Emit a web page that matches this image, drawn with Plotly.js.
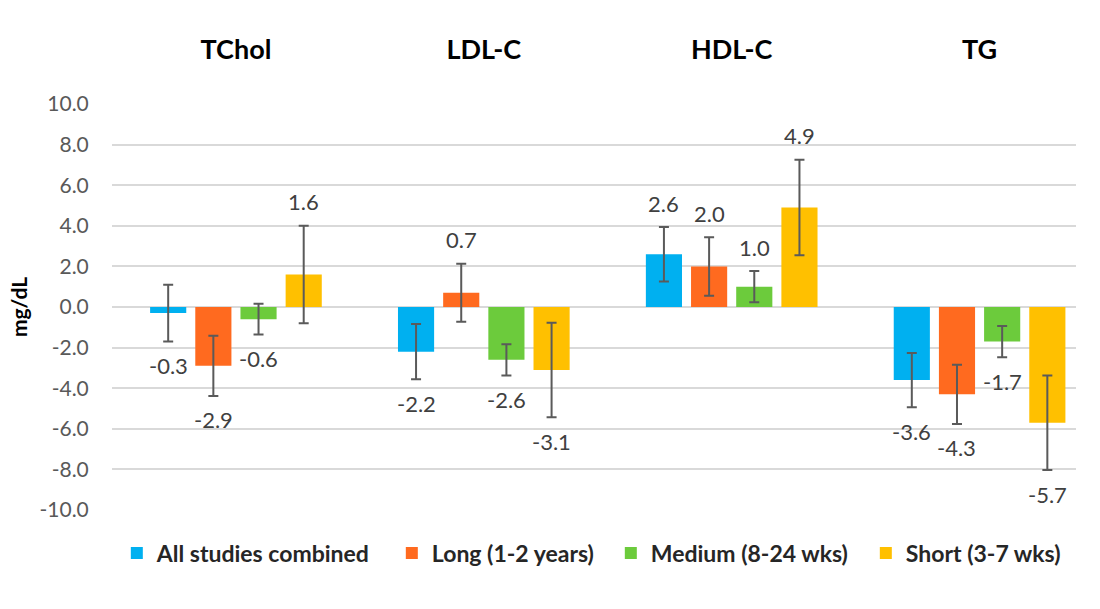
<!DOCTYPE html>
<html>
<head>
<meta charset="utf-8">
<script src="https://cdn.plot.ly/plotly-3.0.1.min.js"></script>
<style>
  html, body { margin: 0; padding: 0; background: #ffffff; }
  #chart { width: 1100px; height: 609px; }
</style>
</head>
<body>
<div id="chart"></div>
<script>
const categories = ['TChol', 'LDL-C', 'HDL-C', 'TG'];
const seriesNames = ['All studies combined', 'Long (1-2 years)', 'Medium (8-24 wks)', 'Short (3-7 wks)'];
const allValues    = [-0.3, -2.2, 2.6, -3.6];
const longValues   = [-2.9,  0.7, 2.0, -4.3];
const mediumValues = [-0.6, -2.6, 1.0, -1.7];
const shortValues  = [ 1.6, -3.1, 4.9, -5.7];
const allErr    = [1.40, 1.36, 1.34, 1.34];
const longErr   = [1.48, 1.43, 1.44, 1.46];
const mediumErr = [0.76, 0.77, 0.77, 0.77];
const shortErr  = [2.40, 2.33, 2.35, 2.33];
const yTickVals = [-10, -8, -6, -4, -2, 0, 2, 4, 6, 8, 10];
const yTickText = ['-10.0', '-8.0', '-6.0', '-4.0', '-2.0', '0.0', '2.0', '4.0', '6.0', '8.0', '10.0'];

const colors = ['#00B0F0', '#FF6A1F', '#6CCB3C', '#FFC000'];
const legendWidths = [230, 174, 210, 160];
const values = [allValues, longValues, mediumValues, shortValues];
const errs = [allErr, longErr, mediumErr, shortErr];

const FONT = 'Lato, "Open Sans", sans-serif';

const traces = values.map((vals, i) => ({
  type: 'bar',
  name: seriesNames[i],
  x: categories,
  y: vals,
  marker: { color: colors[i], line: { width: 0 } },
  error_y: { type: 'data', array: errs[i], visible: true, color: '#5a5a5a', thickness: 2, width: 5 },
  legendwidth: legendWidths[i],
  hoverinfo: 'skip'
}));

const plotWidthPx = 1100 - 111.5 - 24;
const xRange = [-0.5, 3.389];
const catPx = plotWidthPx / (xRange[1] - xRange[0]);
const bargap = 0.271;
const slotPx = catPx * (1 - bargap) / 4;

const annotations = [];
values.forEach((vals, i) => {
  vals.forEach((v, j) => {
    const sign = v >= 0 ? 1 : -1;
    annotations.push({
      x: categories[j], xref: 'x',
      y: v + sign * errs[i][j], yref: 'y',
      xshift: (i - 1.5) * slotPx,
      yshift: sign * 24,
      yanchor: 'middle',
      text: v.toFixed(1),
      showarrow: false,
      font: { family: FONT, size: 22, color: '#404040' }
    });
  });
});

const layout = {
  width: 1100, height: 609,
  paper_bgcolor: '#ffffff', plot_bgcolor: '#ffffff',
  margin: { l: 111.5, r: 24, t: 104, b: 99, autoexpand: false },
  barmode: 'group',
  bargap: bargap,
  bargroupgap: 0.2,
  showlegend: true,
  legend: {
    orientation: 'h', x: 0.005, xanchor: 'left', y: -0.106, yanchor: 'middle',
    font: { family: FONT, size: 23, color: '#262626', weight: 'bold' },
    traceorder: 'normal'
  },
  xaxis: {
    type: 'category',
    side: 'top',
    range: xRange,
    showline: false, showgrid: false, zeroline: false,
    ticks: 'outside', ticklen: 33, tickcolor: 'rgba(0,0,0,0)',
    tickfont: { family: FONT, size: 27, color: '#000000', weight: 'bold' },
    fixedrange: true
  },
  yaxis: {
    range: [-10, 10],
    tickvals: yTickVals,
    ticktext: yTickText,
    showline: false,
    showgrid: true, gridcolor: '#d9d9d9', gridwidth: 2,
    zeroline: true, zerolinecolor: '#d9d9d9', zerolinewidth: 2,
    ticks: 'outside', ticklen: 18, tickcolor: 'rgba(0,0,0,0)',
    tickfont: { family: FONT, size: 21, color: '#595959' },
    title: { text: 'mg/dL', font: { family: FONT, size: 21, color: '#000000', weight: 'bold' }, standoff: 6 },
    fixedrange: true
  },
  annotations: annotations
};

Plotly.newPlot('chart', traces, layout, { displayModeBar: false, staticPlot: true });
</script>
</body>
</html>
